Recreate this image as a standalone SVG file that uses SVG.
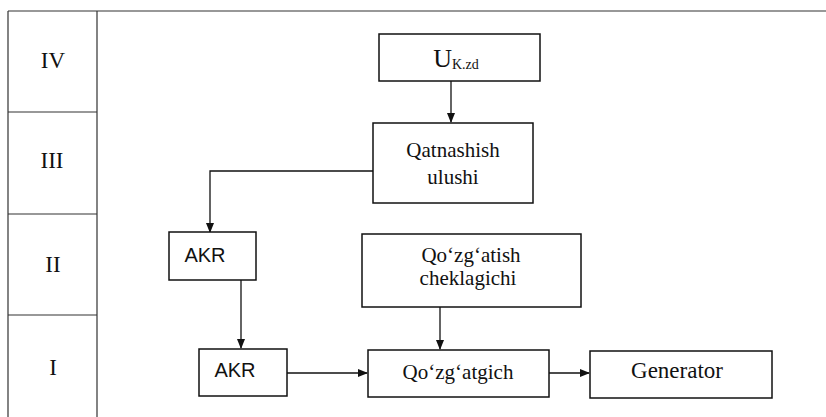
<svg xmlns="http://www.w3.org/2000/svg" width="826" height="417" viewBox="0 0 826 417">
<defs>
<style>
.frame{fill:none;stroke:#333;stroke-width:1.2}
.box{fill:#fff;stroke:#111;stroke-width:1.5}
.t{font-family:"Liberation Serif","Times New Roman",serif;fill:#111;text-anchor:middle}
.s{font-family:"Liberation Sans",Arial,sans-serif;fill:#111;text-anchor:middle}
.c{fill:none;stroke:#111;stroke-width:1.3}
</style>
<marker id="ah" markerWidth="10" markerHeight="8" refX="9" refY="4" orient="auto" markerUnits="userSpaceOnUse">
<path d="M0,0 L10,4 L0,8 Z" fill="#111"/>
</marker>
</defs>
<rect width="826" height="417" fill="#fff"/>
<g id="frame">
<path class="frame" d="M8,11 H826 M8,11 V417 M97,11 V417 M8,112 H97 M8,214 H97 M8,315 H97"/>
<text class="t" x="53" y="68" font-size="23">IV</text>
<text class="t" x="52" y="168" font-size="23">III</text>
<text class="t" x="53" y="272" font-size="23">II</text>
<text class="t" x="53" y="375" font-size="23">I</text>
</g>
<g id="connectors">
<path class="c" d="M451,81 V122" marker-end="url(#ah)"/>
<path class="c" d="M373,171 H210 V232" marker-end="url(#ah)"/>
<path class="c" d="M241,280 V348" marker-end="url(#ah)"/>
<path class="c" d="M287,373 H367" marker-end="url(#ah)"/>
<path class="c" d="M440,307 V349" marker-end="url(#ah)"/>
<path class="c" d="M549,373 H589" marker-end="url(#ah)"/>
</g>
<g id="n-ukzd">
<rect class="box" x="379" y="34" width="161" height="47"/>
<text class="t" x="456" y="67" font-size="26">U<tspan font-size="14" dy="2">K.zd</tspan></text>
</g>
<g id="n-qatnashish">
<rect class="box" x="373" y="123" width="160" height="80"/>
<text class="t" x="453" y="157" font-size="21">Qatnashish</text>
<text class="t" x="453" y="184" font-size="21">ulushi</text>
</g>
<g id="n-akr2">
<rect class="box" x="169" y="232" width="87" height="48"/>
<text class="s" x="205" y="262" font-size="20">AKR</text>
</g>
<g id="n-cheklagich">
<rect class="box" x="362" y="234" width="219" height="73"/>
<text class="t" x="471" y="262" font-size="21">Qo‘zg‘atish</text>
<text class="t" x="468" y="285" font-size="21">cheklagichi</text>
</g>
<g id="n-akr1">
<rect class="box" x="199" y="349" width="88" height="47"/>
<text class="s" x="235" y="377" font-size="20">AKR</text>
</g>
<g id="n-qozgatgich">
<rect class="box" x="368" y="350" width="181" height="47"/>
<text class="t" x="458" y="379" font-size="21">Qo‘zg‘atgich</text>
</g>
<g id="n-generator">
<rect class="box" x="590" y="351" width="182" height="47"/>
<text class="t" x="677" y="378" font-size="23">Generator</text>
</g>
</svg>
